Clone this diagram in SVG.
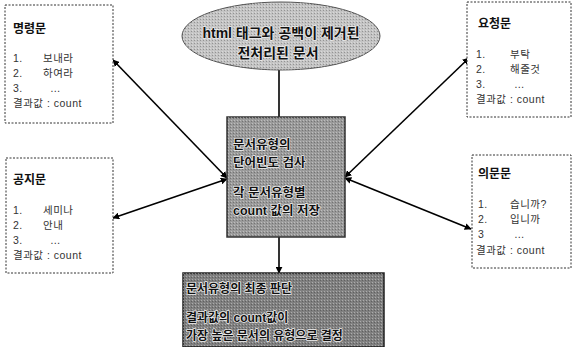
<svg xmlns="http://www.w3.org/2000/svg" width="574" height="347" viewBox="0 0 574 347">
<defs>
<style>
text{font-family:"Liberation Sans","Noto Sans CJK KR",sans-serif;fill:#111}
.side{fill:#fff;stroke:#333;stroke-width:1;stroke-dasharray:2 1.5}
.t{font-size:12px;font-weight:bold}
.i{font-size:10.5px;fill:#333;letter-spacing:0.5px}
.b{font-weight:bold;stroke:#eee;stroke-width:1.5;paint-order:stroke;stroke-linejoin:round}
.c{stroke:#000;stroke-width:1.6;fill:none}
</style>
<marker id="ah" viewBox="0 0 10 10" refX="9" refY="5" markerWidth="7" markerHeight="7" orient="auto-start-reverse" markerUnits="userSpaceOnUse">
<path d="M0,0 L10,5 L0,10 z" fill="#000"/>
</marker>
<pattern id="dots" width="3" height="3" patternUnits="userSpaceOnUse">
<rect x="0" y="0" width="1" height="1" fill="#fff" fill-opacity="0.35"/>
<rect x="2" y="1" width="1" height="1" fill="#000" fill-opacity="0.25"/>
</pattern>
</defs>

<g id="connectors">
<line class="c" x1="279" y1="70" x2="279" y2="117"/>
<line class="c" x1="279" y1="237" x2="279" y2="273" marker-end="url(#ah)"/>
<line class="c" x1="113" y1="60" x2="227" y2="178" marker-start="url(#ah)" marker-end="url(#ah)"/>
<line class="c" x1="113" y1="218" x2="227" y2="179" marker-start="url(#ah)" marker-end="url(#ah)"/>
<line class="c" x1="469" y1="58" x2="345" y2="177" marker-start="url(#ah)" marker-end="url(#ah)"/>
<line class="c" x1="471" y1="229" x2="345" y2="178" marker-start="url(#ah)" marker-end="url(#ah)"/>
</g>

<g id="top">
<ellipse cx="281" cy="36" rx="99" ry="34" fill="#c4c4c4" stroke="#555" stroke-width="1"/>
<ellipse cx="281" cy="36" rx="99" ry="34" fill="url(#dots)"/>
<text class="b" x="281" y="38" font-size="14" text-anchor="middle">html 태그와 공백이 제거된</text>
<text class="b" x="278" y="58" font-size="14" text-anchor="middle">전처리된 문서</text>
</g>

<g id="center">
<rect x="227" y="117" width="118" height="120" fill="#9a9a9a" stroke="#333" stroke-width="1.5"/>
<rect x="227" y="117" width="118" height="120" fill="url(#dots)"/>
<text class="b" x="233" y="149" font-size="12.5">문서유형의</text>
<text class="b" x="233" y="167" font-size="12.5">단어빈도 검사</text>
<text class="b" x="233" y="197" font-size="12.5">각 문서유형별</text>
<text class="b" x="233" y="215" font-size="12.5">count 값의 저장</text>
</g>

<g id="bottom">
<rect x="183" y="273" width="201" height="74" fill="#808080" stroke="#222" stroke-width="1.5"/>
<rect x="183" y="273" width="201" height="74" fill="url(#dots)"/>
<text class="b" x="186" y="293" font-size="12">문서유형의 최종 판단</text>
<text class="b" x="186" y="322" font-size="12">결과값의 count값이</text>
<text class="b" x="186" y="340" font-size="12">가장 높은 문서의 유형으로 결정</text>
</g>

<g id="command">
<rect class="side" x="5" y="5" width="108" height="118"/>
<text class="t" x="13" y="33">명령문</text>
<text class="i" x="13" y="62">1.</text><text class="i" x="43" y="62">보내라</text>
<text class="i" x="13" y="77">2.</text><text class="i" x="43" y="77">하여라</text>
<text class="i" x="13" y="92">3.</text><text class="i" x="50" y="92">…</text>
<text class="i" x="13" y="107">결과값 : count</text>
</g>

<g id="request">
<rect class="side" x="467" y="2" width="104" height="115"/>
<text class="t" x="478" y="28">요청문</text>
<text class="i" x="476" y="58">1.</text><text class="i" x="510" y="58">부탁</text>
<text class="i" x="476" y="73">2.</text><text class="i" x="510" y="73">해줄것</text>
<text class="i" x="476" y="88">3.</text><text class="i" x="514" y="88">…</text>
<text class="i" x="476" y="103">결과값 : count</text>
</g>

<g id="notice">
<rect class="side" x="6" y="158" width="107" height="115"/>
<text class="t" x="13" y="184">공지문</text>
<text class="i" x="13" y="214">1.</text><text class="i" x="43" y="214">세미나</text>
<text class="i" x="13" y="229">2.</text><text class="i" x="43" y="229">안내</text>
<text class="i" x="13" y="244">3.</text><text class="i" x="50" y="244">…</text>
<text class="i" x="13" y="259">결과값 : count</text>
</g>

<g id="question">
<rect class="side" x="472" y="155" width="99" height="113"/>
<text class="t" x="478" y="178">의문문</text>
<text class="i" x="478" y="208">1.</text><text class="i" x="510" y="208">습니까?</text>
<text class="i" x="478" y="223">2.</text><text class="i" x="510" y="223">입니까</text>
<text class="i" x="478" y="238">3</text><text class="i" x="514" y="238">…</text>
<text class="i" x="476" y="254">결과값 : count</text>
</g>
</svg>
